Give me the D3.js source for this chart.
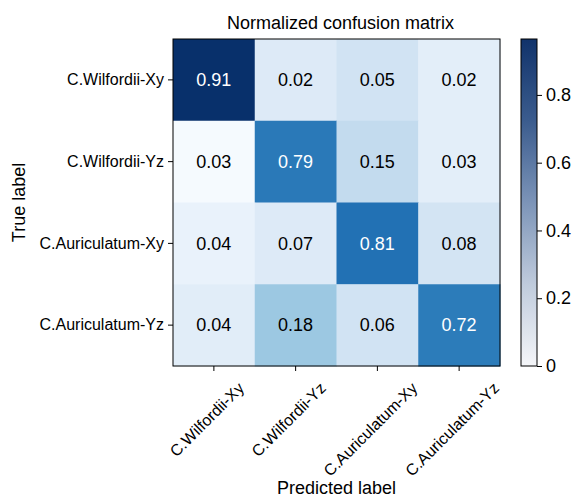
<!DOCTYPE html>
<html>
<head>
<meta charset="utf-8">
<script src="https://cdn.jsdelivr.net/npm/d3@7"></script>
<style>
  html, body { margin: 0; padding: 0; background: #fff; }
  svg text { font-family: Arial, "Liberation Sans", sans-serif; fill: #000; }
</style>
</head>
<body>
<svg id="chart" width="574" height="498"></svg>
<script>
// ---- data ----
const trueLabels = ["C.Wilfordii-Xy", "C.Wilfordii-Yz", "C.Auriculatum-Xy", "C.Auriculatum-Yz"];
const predLabels = ["C.Wilfordii-Xy", "C.Wilfordii-Yz", "C.Auriculatum-Xy", "C.Auriculatum-Yz"];
// displayed normalized values (rows = true label)
const values = [
  [0.91, 0.02, 0.05, 0.02],
  [0.03, 0.79, 0.15, 0.03],
  [0.04, 0.07, 0.81, 0.08],
  [0.04, 0.18, 0.06, 0.72]
];
// cell shading intensity (Blues colormap position)
const shades = [
  [1.00, 0.13, 0.19, 0.10],
  [0.01, 0.72, 0.25, 0.10],
  [0.07, 0.13, 0.75, 0.18],
  [0.11, 0.375, 0.19, 0.71]
];
const colorbarTicks = [0, 0.2, 0.4, 0.6, 0.8];
const colorbarMax = 0.965;
const titleText = "Normalized confusion matrix";
const xTitle = "Predicted label";
const yTitle = "True label";

// ---- layout ----
const svg = d3.select("#chart");
const L = 173, T = 39, S = 327;
const FONT = 'Arial, "Liberation Sans", sans-serif';
const x = d3.scaleBand().domain(predLabels).range([L, L + S]);
const y = d3.scaleBand().domain(trueLabels).range([T, T + S]);
const color = d3.scaleSequential(d3.interpolateBlues).domain([0, 1]);

const cells = [];
values.forEach((row, i) => row.forEach((v, j) => cells.push({i, j, v, s: shades[i][j]})));

svg.append("g").selectAll("rect").data(cells).join("rect")
  .attr("x", d => x(predLabels[d.j]))
  .attr("y", d => y(trueLabels[d.i]))
  .attr("width", x.bandwidth() + 0.5)
  .attr("height", y.bandwidth() + 0.5)
  .attr("fill", d => color(d.s));

svg.append("g").selectAll("text").data(cells).join("text")
  .attr("x", d => x(predLabels[d.j]) + x.bandwidth() / 2)
  .attr("y", d => y(trueLabels[d.i]) + y.bandwidth() / 2)
  .attr("dy", "0.35em")
  .attr("text-anchor", "middle")
  .style("font-size", "18px")
  .style("fill", d => d.v > 0.5 ? "#fff" : "#000")
  .text(d => d.v.toFixed(2));

svg.append("rect").attr("x", L).attr("y", T).attr("width", S).attr("height", S)
  .attr("fill", "none").attr("stroke", "#000").attr("stroke-width", 1);

// left axis
const yAxis = svg.append("g").attr("transform", `translate(${L},0)`)
  .call(d3.axisLeft(y).tickSize(5).tickPadding(4));
yAxis.select(".domain").remove();
yAxis.selectAll("text").style("font-size", "16px").style("font-family", FONT);

// bottom axis
const xAxis = svg.append("g").attr("transform", `translate(0,${T + S})`)
  .call(d3.axisBottom(x).tickSize(5));
xAxis.select(".domain").remove();
xAxis.selectAll("text").remove();
const c45 = Math.SQRT1_2;
const fs = 16, asc = 0.9 * fs, desc = 0.21 * fs, topY = T + S + 13;
const xl = svg.append("g").selectAll("text").data(predLabels).join("text")
  .style("font-size", fs + "px")
  .attr("text-anchor", "end")
  .text(d => d);
xl.each(function(d) {
  const w = this.getComputedTextLength();
  const tx = x(d) + x.bandwidth() / 2 - 7;
  const ax = tx + (w + asc - desc) * c45 / 2;
  const ay = topY + asc * c45;
  d3.select(this).attr("transform", `translate(${ax},${ay}) rotate(-45)`);
});

// titles
svg.append("text").attr("x", L + S / 2 + 4).attr("y", 29).attr("text-anchor", "middle")
  .style("font-size", "18px").text(titleText);
svg.append("text").attr("x", L + S / 2).attr("y", 494).attr("text-anchor", "middle")
  .style("font-size", "18px").text(xTitle);
svg.append("text").attr("transform", `translate(25,${T + S / 2}) rotate(-90)`)
  .attr("text-anchor", "middle").style("font-size", "18px").text(yTitle);

// colorbar
const cbX = 521, cbW = 16;
const cbScale = d3.scaleLinear().domain([0, colorbarMax]).range([T + S, T]);
const cbColor = d3.scaleLinear()
  .domain([0, 0.25, 0.5, 0.75, 1])
  .range(["#f5f6f9", "#bfcbdc", "#7c94b8", "#3b5c8e", "#11336b"]);
const defs = svg.append("defs");
const grad = defs.append("linearGradient").attr("id", "cbgrad")
  .attr("x1", 0).attr("y1", 1).attr("x2", 0).attr("y2", 0);
d3.range(0, 1.0001, 0.05).forEach(t => {
  grad.append("stop").attr("offset", t).attr("stop-color", cbColor(t));
});
svg.append("rect").attr("x", cbX).attr("y", T).attr("width", cbW).attr("height", S)
  .attr("fill", "url(#cbgrad)").attr("stroke", "#000").attr("stroke-width", 1);
const cbAxis = svg.append("g").attr("transform", `translate(${cbX + cbW},0)`)
  .call(d3.axisRight(cbScale).tickValues(colorbarTicks).tickSize(5).tickPadding(4)
    .tickFormat(d => d === 0 ? "0" : d3.format(".1f")(d)));
cbAxis.select(".domain").remove();
cbAxis.selectAll("text").style("font-size", "18px").style("font-family", FONT);
svg.selectAll(".tick line").attr("stroke", "#000");
</script>
</body>
</html>
